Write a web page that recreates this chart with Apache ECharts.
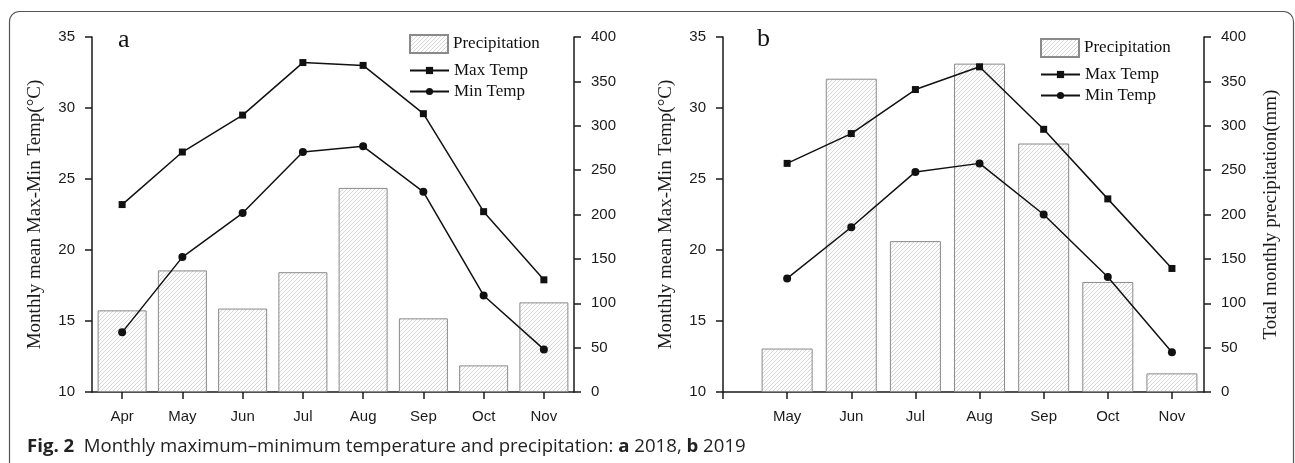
<!DOCTYPE html>
<html><head><meta charset="utf-8">
<script src="https://cdn.jsdelivr.net/npm/echarts@6/dist/echarts.min.js"></script>
<style>html,body{margin:0;padding:0;background:#fff}#c{width:1295px;height:463px}</style>
</head><body><div id="c"></div>
<script>
// ---- data ----
const monthsA = ['Apr','May','Jun','Jul','Aug','Sep','Oct','Nov'];
const maxTempA = [23.2, 26.9, 29.5, 33.2, 33.0, 29.6, 22.7, 17.9];
const minTempA = [14.2, 19.5, 22.6, 26.9, 27.3, 24.1, 16.8, 13.0];
const precipA  = [92, 137, 94, 135, 230, 83, 30, 101];

const monthsB = ['May','Jun','Jul','Aug','Sep','Oct','Nov'];
const maxTempB = [26.1, 28.2, 31.3, 32.9, 28.5, 23.6, 18.7];
const minTempB = [18.0, 21.6, 25.5, 26.1, 22.5, 18.1, 12.8];
const precipB  = [49, 353, 170, 370, 280, 124, 21];

const tempAxis = {min: 10, max: 35, interval: 5};
const precAxis = {min: 0, max: 400, interval: 50};

const tempName = 'Monthly mean Max-Min Temp(°C)';
const precName = 'Total monthly precipitation(mm)';
const caption = '{b|Fig. 2}  Monthly maximum\u2013minimum temperature and precipitation: {b|a} 2018, {b|b} 2019';

// ---- styles ----
function hatch() {
  const s = 4, c = document.createElement('canvas');
  c.width = s; c.height = s;
  const g = c.getContext('2d');
  g.fillStyle = '#fdfdfd'; g.fillRect(0, 0, s, s);
  g.strokeStyle = '#cdcdcd'; g.lineWidth = 0.8;
  g.beginPath();
  g.moveTo(0, s); g.lineTo(s, 0);
  g.moveTo(-1, 1); g.lineTo(1, -1);
  g.moveTo(s - 1, s + 1); g.lineTo(s + 1, s - 1);
  g.stroke();
  return c;
}
const pattern = {image: hatch(), repeat: 'repeat'};
const AX = '#1a1a1a';
const lblFont = {fontFamily: 'Liberation Sans', fontSize: 15, color: '#1a1a1a'};
const nameFont = {fontFamily: 'Liberation Serif', fontSize: 19, color: '#1a1a1a'};
const legFont = {fontFamily: 'Liberation Serif', fontSize: 17, color: '#111'};

function xAxis(grid, months, offset, min, tickVals) {
  return {
    type: 'value', gridIndex: grid, min: min, max: months.length - 0.5 + offset,
    axisLine: {show: true, onZero: false, lineStyle: {color: AX, width: 1.5}},
    axisTick: {show: true, length: 7, customValues: tickVals, lineStyle: {color: AX, width: 1.5}},
    axisLabel: Object.assign({customValues: months.map((m, i) => i + offset), margin: 17,
      formatter: v => months[Math.round(v) - offset] || ''}, lblFont),
    splitLine: {show: false}
  };
}
function yAxis(grid, cfg, pos, name, gap) {
  return {
    type: 'value', gridIndex: grid, position: pos, min: cfg.min, max: cfg.max, interval: cfg.interval,
    name: name || '', nameLocation: 'middle', nameGap: gap || 0, nameTextStyle: nameFont,
    axisLine: {show: true, onZero: false, lineStyle: {color: AX, width: 1.5}},
    axisTick: {show: true, length: 7, lineStyle: {color: AX, width: 1.5}},
    axisLabel: Object.assign({margin: 17}, lblFont),
    splitLine: {show: false}
  };
}
function seriesFor(xi, yT, yP, months, offset, maxT, minT, prec, bw) {
  return [
    {type: 'bar', name: 'Precipitation', xAxisIndex: xi, yAxisIndex: yP, barWidth: bw,
     data: prec.map((v, i) => [i + offset, v]),
     itemStyle: {color: pattern, borderColor: '#8a8a8a', borderWidth: 1}},
    {type: 'line', name: 'Max Temp', xAxisIndex: xi, yAxisIndex: yT, symbol: 'rect', symbolSize: 7,
     data: maxT.map((v, i) => [i + offset, v]),
     lineStyle: {color: '#111', width: 1.5}, itemStyle: {color: '#111'}},
    {type: 'line', name: 'Min Temp', xAxisIndex: xi, yAxisIndex: yT, symbol: 'circle', symbolSize: 8,
     data: minT.map((v, i) => [i + offset, v]),
     lineStyle: {color: '#111', width: 1.5}, itemStyle: {color: '#111'}}
  ];
}
function legends(left, top) {
  return [
    {data: [{name: 'Precipitation', icon: 'rect'}], left: left, top: top, padding: 0, itemWidth: 38, itemHeight: 18,
     selectedMode: false, textStyle: legFont},
    {data: ['Max Temp'], left: left, top: top + 28, padding: 0, itemWidth: 39, itemHeight: 9,
     selectedMode: false, textStyle: legFont},
    {data: ['Min Temp'], left: left, top: top + 49, padding: 0, itemWidth: 39, itemHeight: 9,
     selectedMode: false, textStyle: legFont}
  ];
}

const chart = echarts.init(document.getElementById('c'), null, {renderer: 'canvas'});
chart.setOption({
  animation: false,
  backgroundColor: '#fff',
  grid: [
    {left: 92, top: 37, width: 482, height: 355},
    {left: 723, top: 37, width: 481, height: 355}
  ],
  xAxis: [
    xAxis(0, monthsA, 0, -0.5, monthsA.map((m, i) => i)),
    xAxis(1, monthsB, 1, 0, [0].concat(monthsB.map((m, i) => i + 1)))
  ],
  yAxis: [
    yAxis(0, tempAxis, 'left', tempName, 47),
    yAxis(0, precAxis, 'right'),
    yAxis(1, tempAxis, 'left', tempName, 47),
    yAxis(1, precAxis, 'right', precName, 58)
  ],
  legend: legends(409, 34).concat(legends(1040, 38)),
  series: seriesFor(0, 0, 1, monthsA, 0, maxTempA, minTempA, precipA, 49)
    .concat(seriesFor(1, 2, 3, monthsB, 1, maxTempB, minTempB, precipB, 51)),
  graphic: [
    {type: 'rect', shape: {x: 9.5, y: 11.5, width: 1284, height: 480, r: 10}, silent: true,
     style: {fill: 'none', stroke: '#555', lineWidth: 1.2}},
    {type: 'text', x: 118, y: 40, silent: true,
     style: {text: 'a', font: '26px "Liberation Serif"', fill: '#111', verticalAlign: 'middle'}},
    {type: 'text', x: 757, y: 39, silent: true,
     style: {text: 'b', font: '26px "Liberation Serif"', fill: '#111', verticalAlign: 'middle'}},
    {type: 'text', x: 27, y: 447, silent: true,
     style: {text: caption, fontFamily: 'Open Sans', fontSize: 18.6, fill: '#222', verticalAlign: 'middle',
       rich: {b: {fontFamily: 'Open Sans', fontSize: 18.6, fontWeight: 'bold', fill: '#222'}}}}
  ]
});
</script></body></html>
